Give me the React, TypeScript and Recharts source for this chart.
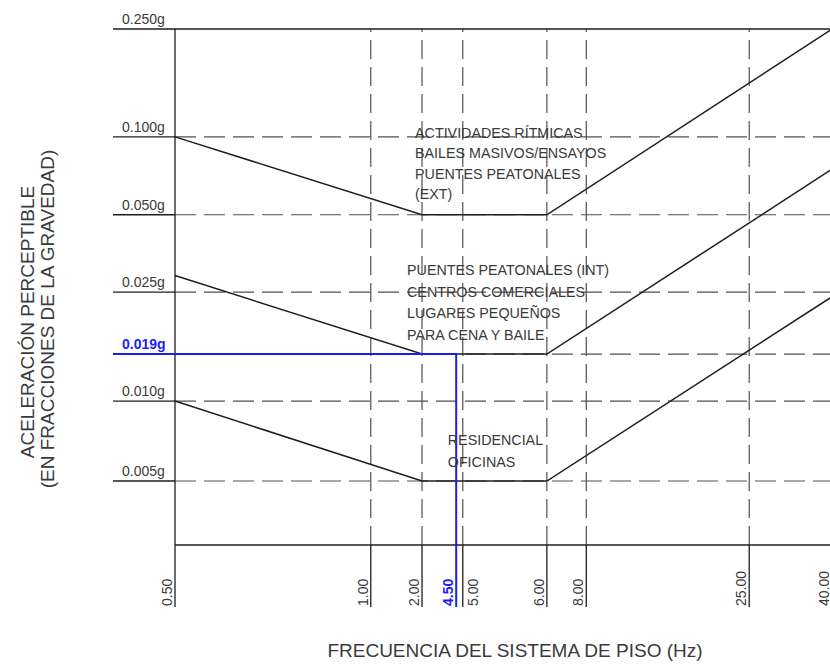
import { LineChart, Line, XAxis, YAxis, ReferenceLine, ReferenceDot } from 'recharts';

// Frecuencias marcadas en el eje horizontal (Hz)
const FREQ_TICKS = [0.5, 1, 2, 4.5, 5, 6, 8, 25, 40];
const FREQ_LABELS = ['0.50', '1.00', '2.00', '4.50', '5.00', '6.00', '8.00', '25.00', '40.00'];

// Aceleraciones marcadas en el eje vertical (fracción de g)
const ACCEL_TICKS = [0.25, 0.1, 0.05, 0.025, 0.019, 0.01, 0.005];
const ACCEL_LABELS = ['0.250g', '0.100g', '0.050g', '0.025g', '0.019g', '0.010g', '0.005g'];

// Curvas límite: [frecuencia (Hz), aceleración (g)]
const LIMITE_RITMICAS = [[0.5, 0.1], [2, 0.05], [6, 0.05], [40, 0.25]];
const LIMITE_COMERCIAL = [[0.5, 0.029], [2, 0.019], [6, 0.019], [40, 0.075]];
const LIMITE_OFICINAS = [[0.5, 0.01], [2, 0.005], [6, 0.005], [40, 0.0245]];

// Punto de diseño del sistema de piso
const DISENO_FREQ = 4.5;
const DISENO_ACEL = 0.019;

const TEXTO_RITMICAS = ['ACTIVIDADES RÍTMICAS', 'BAILES MASIVOS/ENSAYOS', 'PUENTES PEATONALES', '(EXT)'];
const TEXTO_COMERCIAL = ['PUENTES PEATONALES (INT)', 'CENTROS COMERCIALES', 'LUGARES PEQUEÑOS', 'PARA CENA Y BAILE'];
const TEXTO_OFICINAS = ['RESIDENCIAL', 'OFICINAS'];

// El ábaco no es logarítmico puro: cada marca tiene su sitio en el eje (0-100)
const FREQ_STOPS = [0, 29.8, 37.6, 42.8, 43.8, 56.6, 62.6, 87.4, 100];
const ACCEL_STOPS = [100, 79.1, 64.0, 49.0, 37.0, 27.9, 12.4];

const INK = '#1e1e1e';
const GRID = '#505050';
const TEXT = '#3a3a3a';
const BLUE = '#1d1df2';
const FONT = '"Liberation Sans", Arial, sans-serif';

// interpolación logarítmica entre marcas consecutivas
const warp = (v: number, keys: number[], stops: number[]) => {
  const asc = keys[1] > keys[0];
  let i = 0;
  for (; i < keys.length - 2; i++) {
    const next = keys[i + 1];
    if (asc ? v <= next : v >= next) break;
  }
  const a = Math.log(keys[i]);
  const b = Math.log(keys[i + 1]);
  return stops[i] + ((Math.log(v) - a) / (b - a)) * (stops[i + 1] - stops[i]);
};
const fx = (f: number) => warp(f, FREQ_TICKS, FREQ_STOPS);
const gy = (g: number) => warp(g, ACCEL_TICKS, ACCEL_STOPS);

const toPoints = (curve: number[][]) => curve.map(([f, g]) => ({ x: fx(f), y: gy(g) }));

const disenoPath = [
  { x: fx(FREQ_TICKS[0]), y: gy(DISENO_ACEL) },
  { x: fx(DISENO_FREQ), y: gy(DISENO_ACEL) },
  { x: fx(DISENO_FREQ), y: 0 },
];

const nearest = (value: number, list: number[], map: (v: number) => number) =>
  list.findIndex((v) => Math.abs(map(v) - value) < 1e-6);

const FreqTick = ({ x, y, payload }: any) => {
  const i = nearest(payload.value, FREQ_TICKS, fx);
  const design = FREQ_TICKS[i] === DISENO_FREQ;
  // si la marca anterior queda muy cerca, el rótulo pasa al otro lado de la línea
  const crowded = i > 0 && fx(FREQ_TICKS[i]) - fx(FREQ_TICKS[i - 1]) < 3;
  const lx = crowded ? x + 15 : x - 3;
  const ly = y + 61;
  return (
    <g>
      <line x1={x} y1={y} x2={x} y2={y + 62} stroke={design ? BLUE : INK} strokeWidth={design ? 2 : 1.3} />
      <text
        x={lx}
        y={ly}
        transform={`rotate(-90 ${lx} ${ly})`}
        fontSize={14}
        fontFamily={FONT}
        fontWeight={design ? 'bold' : 'normal'}
        fill={design ? BLUE : TEXT}
      >
        {FREQ_LABELS[i]}
      </text>
    </g>
  );
};

const AccelTick = ({ x, y, payload }: any) => {
  const i = nearest(payload.value, ACCEL_TICKS, gy);
  const design = ACCEL_TICKS[i] === DISENO_ACEL;
  return (
    <g>
      <line x1={x - 62} y1={y} x2={x} y2={y} stroke={design ? BLUE : INK} strokeWidth={design ? 2 : 1.3} />
      <text
        x={x - 53}
        y={y - 5}
        fontSize={14}
        fontFamily={FONT}
        fontWeight={design ? 'bold' : 'normal'}
        fill={design ? BLUE : TEXT}
      >
        {ACCEL_LABELS[i]}
      </text>
    </g>
  );
};

// bloque de texto anclado a un punto del ábaco
const textBlock = (lines: string[], dx: number, dy: number, step: number) => (p: any) => (
  <text x={p.cx + dx} y={p.cy + dy} fontSize={14.3} fontFamily={FONT} fill={TEXT}>
    {lines.map((t, k) => (
      <tspan key={k} x={p.cx + dx} dy={k === 0 ? 0 : step}>
        {t}
      </tspan>
    ))}
  </text>
);

export default function App() {
  return (
    <div style={{ position: 'absolute', left: 0, top: 0, background: '#fff' }}>
      <LineChart width={830} height={666} margin={{ top: 29, right: -2, bottom: 0, left: 0 }}>
        <XAxis
          dataKey="x"
          type="number"
          domain={[0, 100]}
          ticks={FREQ_TICKS.map(fx)}
          interval={0}
          tickSize={0}
          tickMargin={0}
          tickLine={false}
          height={121}
          axisLine={{ stroke: INK, strokeWidth: 1.3 }}
          tick={<FreqTick />}
        />
        <YAxis
          dataKey="y"
          type="number"
          domain={[0, 100]}
          ticks={ACCEL_TICKS.map(gy)}
          interval={0}
          tickSize={0}
          tickMargin={0}
          tickLine={false}
          width={175}
          axisLine={{ stroke: INK, strokeWidth: 1.3 }}
          tick={<AccelTick />}
        />

        {FREQ_TICKS.filter((f) => f !== FREQ_TICKS[0] && f !== DISENO_FREQ).map((f) => (
          <ReferenceLine key={`v${f}`} x={fx(f)} stroke={GRID} strokeWidth={1.2} strokeDasharray="19 8" />
        ))}
        {ACCEL_TICKS.slice(1).map((g) => (
          <ReferenceLine key={`h${g}`} y={gy(g)} stroke={GRID} strokeWidth={1.2} strokeDasharray="21 8" />
        ))}
        <ReferenceLine y={gy(ACCEL_TICKS[0])} stroke={INK} strokeWidth={1.3} />

        <Line data={toPoints(LIMITE_RITMICAS)} dataKey="y" stroke={INK} strokeWidth={1.5} dot={false} activeDot={false} isAnimationActive={false} />
        <Line data={toPoints(LIMITE_COMERCIAL)} dataKey="y" stroke={INK} strokeWidth={1.5} dot={false} activeDot={false} isAnimationActive={false} />
        <Line data={toPoints(LIMITE_OFICINAS)} dataKey="y" stroke={INK} strokeWidth={1.5} dot={false} activeDot={false} isAnimationActive={false} />
        <Line data={disenoPath} dataKey="y" stroke={BLUE} strokeWidth={2} dot={false} activeDot={false} isAnimationActive={false} />

        <ReferenceDot x={fx(2)} y={gy(0.1)} r={0} shape={textBlock(TEXTO_RITMICAS, -7, 1, 20.5)} />
        <ReferenceDot x={fx(2)} y={gy(0.025)} r={0} shape={textBlock(TEXTO_COMERCIAL, -15, -17, 21.5)} />
        <ReferenceDot x={fx(5)} y={gy(0.005)} r={0} shape={textBlock(TEXTO_OFICINAS, -15, -36, 22)} />

        <text x={34} y={322} transform="rotate(-90 34 322)" textAnchor="middle" fontSize={19} fontFamily={FONT} fill={TEXT}>
          ACELERACIÓN PERCEPTIBLE
        </text>
        <text x={54} y={319} transform="rotate(-90 54 319)" textAnchor="middle" fontSize={19} fontFamily={FONT} fill={TEXT}>
          (EN FRACCIONES DE LA GRAVEDAD)
        </text>
        <text x={515} y={657} textAnchor="middle" fontSize={19} fontFamily={FONT} fill={TEXT}>
          FRECUENCIA DEL SISTEMA DE PISO (Hz)
        </text>
      </LineChart>
    </div>
  );
}
